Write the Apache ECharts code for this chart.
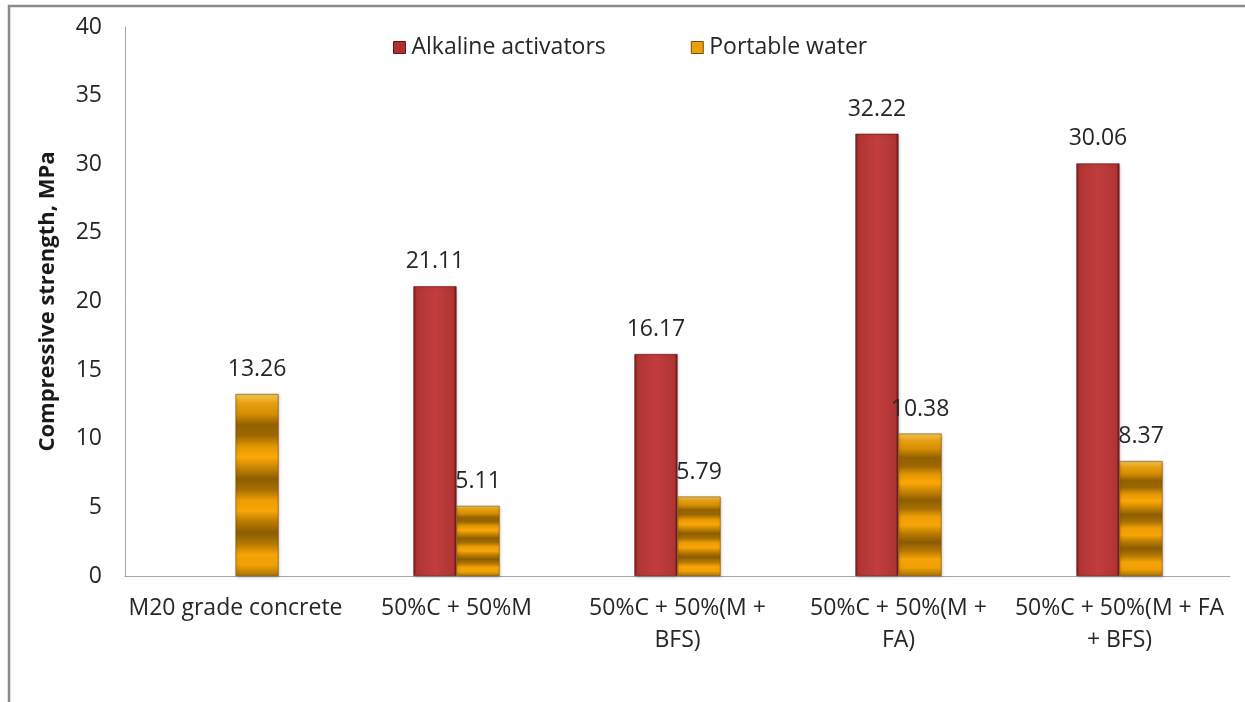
<!DOCTYPE html>
<html>
<head>
<meta charset="utf-8">
<script src="https://cdn.jsdelivr.net/npm/echarts@6/dist/echarts.min.js"></script>
<style>
  html, body { margin: 0; padding: 0; background: #fff; }
  #chart { width: 1245px; height: 702px; }
</style>
</head>
<body>
<div id="chart"></div>
<script>
// Mix designs on the category axis
const categories = [
  'M20 grade concrete',
  '50%C + 50%M',
  '50%C + 50%(M +\nBFS)',
  '50%C + 50%(M +\nFA)',
  '50%C + 50%(M + FA\n+ BFS)'
];
// Compressive strength (MPa)
const alkalineActivators = [null, 21.11, 16.17, 32.22, 30.06];
const portableWater = [13.26, 5.11, 5.79, 10.38, 8.37];
const seriesNames = ['Alkaline activators', 'Portable water'];
const yTicks = { min: 0, max: 40, interval: 5 };

const FONT = '"Open Sans", "DejaVu Sans", sans-serif';
const TEXT = '#262626';

// Red bevelled fill: darker edges, lighter middle
const redFill = new echarts.graphic.LinearGradient(0, 0, 1, 0, [
  { offset: 0, color: '#7e1d1d' },
  { offset: 0.07, color: '#b03434' },
  { offset: 0.5, color: '#c23d3d' },
  { offset: 0.93, color: '#b03434' },
  { offset: 1, color: '#5e1414' }
]);

// Gold fill with horizontal bands
function goldFill() {
  const stops = [
    { offset: 0, color: '#f8c85a' },
    { offset: 0.05, color: '#e6a010' }
  ];
  const bands = 3.5;
  const n = 16;
  for (let i = 1; i <= n; i++) {
    const t = 0.05 + (0.95 * i) / n;
    const phase = Math.cos(((t - 0.05) * bands) * 2 * Math.PI);
    const k = (phase + 1) / 2; // 1 bright, 0 dark
    const r = Math.round(0x8c + (0xff - 0x8c) * k);
    const g = Math.round(0x5c + (0xaa - 0x5c) * k);
    const b = Math.round(0x00 + (0x06 - 0x00) * k);
    stops.push({ offset: Math.min(t, 1), color: `rgb(${r},${g},${b})` });
  }
  return new echarts.graphic.LinearGradient(0, 0, 0, 1, stops);
}

const valueLabel = {
  show: true,
  position: 'top',
  distance: 13,
  fontFamily: FONT,
  fontSize: 23,
  color: TEXT
};

const chart = echarts.init(document.getElementById('chart'), null, { renderer: 'canvas' });

chart.setOption({
  animation: false,
  backgroundColor: '#fff',
  textStyle: { fontFamily: FONT },
  graphic: [{
    type: 'polyline',
    shape: { points: [[9, 702], [9, 6], [1245, 6]] },
    style: { stroke: '#8a8a8a', lineWidth: 2.5, fill: null },
    silent: true
  }],
  legend: {
    top: 31,
    left: 388,
    icon: 'rect',
    itemWidth: 12,
    itemHeight: 12,
    itemGap: 85,
    textStyle: { fontFamily: FONT, fontSize: 23, color: TEXT, padding: [0, 0, 0, 1] },
    data: [
      { name: seriesNames[0], itemStyle: { color: '#b03030', borderColor: '#6a1515', borderWidth: 1 } },
      { name: seriesNames[1], itemStyle: { color: '#e8a00c', borderColor: '#7a5000', borderWidth: 1 } }
    ]
  },
  grid: { left: 125, right: 15, top: 27, bottom: 126, containLabel: false },
  xAxis: {
    type: 'category',
    data: categories,
    axisLine: { show: true, lineStyle: { color: '#a6a6a6', width: 1 } },
    axisTick: { show: false },
    axisLabel: {
      interval: 0,
      margin: 16,
      fontFamily: FONT,
      fontSize: 23,
      color: TEXT,
      lineHeight: 32,
      align: 'center'
    }
  },
  yAxis: {
    type: 'value',
    min: yTicks.min,
    max: yTicks.max,
    interval: yTicks.interval,
    name: 'Compressive strength, MPa',
    nameLocation: 'middle',
    nameGap: 66,
    nameTextStyle: { fontFamily: FONT, fontSize: 22, fontWeight: 'bold', color: '#1a1a1a' },
    axisLine: { show: true, lineStyle: { color: '#a6a6a6', width: 1 } },
    axisTick: { show: false },
    splitLine: { show: false },
    axisLabel: { margin: 23, fontFamily: FONT, fontSize: 23, color: TEXT }
  },
  series: [
    {
      name: seriesNames[0],
      type: 'bar',
      data: alkalineActivators,
      barGap: '0%',
      barCategoryGap: '61%',
      itemStyle: {
        color: redFill, borderColor: '#6a1515', borderWidth: 0.6,
        shadowColor: 'rgba(0,0,0,0.25)', shadowBlur: 3, shadowOffsetX: 1, shadowOffsetY: 1
      },
      label: Object.assign({}, valueLabel, {
        formatter: p => p.value == null ? '' : p.value.toFixed(2)
      })
    },
    {
      name: seriesNames[1],
      type: 'bar',
      data: portableWater,
      itemStyle: {
        color: goldFill(), borderColor: '#7a5000', borderWidth: 0.6,
        shadowColor: 'rgba(0,0,0,0.25)', shadowBlur: 3, shadowOffsetX: 1, shadowOffsetY: 1
      },
      label: Object.assign({}, valueLabel, {
        formatter: p => p.value.toFixed(2)
      })
    }
  ]
});
</script>
</body>
</html>
